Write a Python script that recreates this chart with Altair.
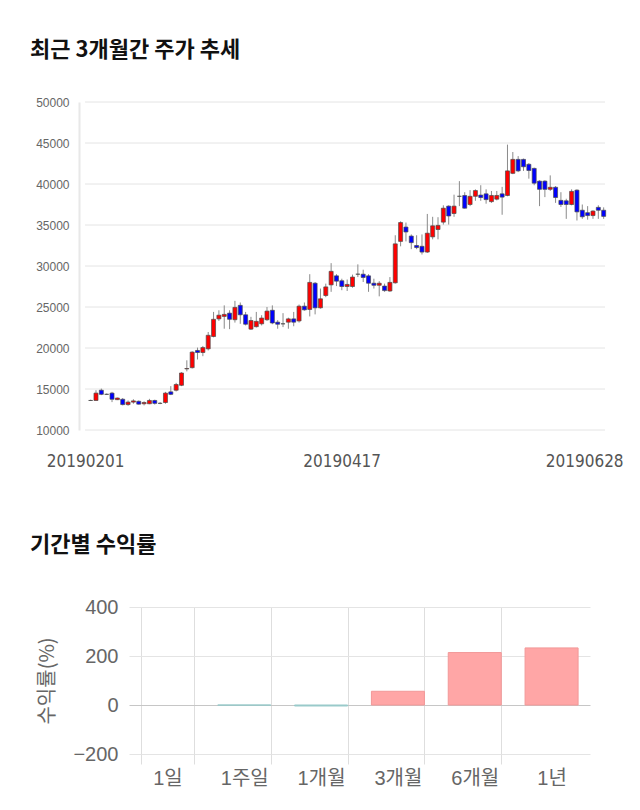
import altair as alt
import pandas as pd

# ---- daily candles (2019-02-01 .. 2019-06-28) ----
opens = [13600, 13600, 14850, 14350, 14500, 13700, 13750, 13100, 13400, 13500,
         13200, 13200, 13600, 13250, 13350, 14650, 14850, 15450, 17450, 17600,
         19700, 19450, 19900, 21400, 23550, 23850, 24250, 23450, 25200, 24050,
         22300, 22600, 22950, 23450, 24600, 23150, 22950, 23150, 23550, 23300,
         25100, 24700, 27900, 24900, 26400, 27700, 28800, 28200, 27500, 27500,
         29000, 29000, 28800, 27900, 27650, 27550, 26950, 27950, 33000, 34750,
         33650, 32500, 32400, 31700, 33550, 34450, 35350, 37300, 36400, 38500,
         38600, 37500, 38500, 38650, 38800, 37850, 38150, 38800, 38600, 41300,
         43000, 43000, 42400, 41900, 40350, 40350, 39350, 39600, 38000, 37950,
         37500, 39250, 36800, 36500, 36150, 37150, 36800]
highs = [13700, 14850, 15050, 14450, 14650, 13950, 13900, 13600, 13750, 13600,
         13500, 13800, 13700, 13400, 14650, 15350, 15750, 17050, 18500, 19600,
         20050, 20250, 21950, 24400, 24600, 25200, 24600, 25750, 25550, 24400,
         23800, 24400, 24000, 25000, 25200, 23400, 24250, 23700, 24400, 25300,
         25550, 29000, 28050, 27250, 27850, 30350, 29000, 28450, 28350, 28950,
         30200, 29550, 29000, 28450, 28150, 27850, 28650, 33750, 35450, 35300,
         33850, 33750, 33850, 36350, 36000, 35950, 37400, 37400, 38700, 40350,
         39000, 39250, 39350, 39850, 39350, 39150, 39150, 39650, 44800, 43900,
         43400, 43100, 42550, 42000, 40450, 40450, 41050, 39750, 39000, 38200,
         39350, 39350, 37500, 37300, 36800, 37400, 37150]
lows = [13550, 13550, 14250, 14300, 13400, 13650, 13000, 12950, 13200, 13100,
        13000, 13150, 13100, 13150, 13200, 14250, 14700, 15350, 17150, 17500,
        18600, 19000, 19700, 21300, 23300, 22350, 22300, 23100, 22950, 22750,
        22200, 22500, 22750, 23300, 22900, 22350, 22550, 22350, 22650, 23100,
        24550, 23850, 24100, 24800, 26200, 26850, 27550, 27050, 26950, 27350,
        28650, 28050, 26850, 27250, 26300, 26850, 26850, 27850, 32400, 33000,
        32050, 32050, 31400, 31600, 33250, 33250, 35050, 35050, 36000, 37300,
        37000, 37300, 37950, 37950, 37600, 37700, 38000, 36250, 38500, 41200,
        41450, 41600, 40650, 39850, 37300, 38400, 39150, 37700, 37200, 35750,
        37400, 35550, 35750, 35650, 35750, 35750, 35750]
closes = [13600, 14500, 14350, 14350, 13750, 13900, 13100, 13400, 13550, 13150,
          13350, 13600, 13250, 13250, 14500, 14350, 15550, 16950, 17500, 19500,
          19450, 20050, 21550, 23500, 24000, 24100, 23500, 24950, 24050, 22900,
          23350, 23250, 23650, 24500, 23050, 22900, 22950, 23550, 23150, 25100,
          24650, 28000, 24900, 26000, 27450, 29350, 28150, 27500, 27750, 28650,
          29000, 28600, 27900, 27650, 27900, 27000, 28000, 32700, 35300, 34150,
          32850, 32250, 31700, 34000, 34900, 34950, 37050, 36100, 37300, 38500,
          37050, 38500, 39200, 38350, 38100, 38600, 38600, 38400, 41600, 43000,
          41600, 42100, 41650, 40100, 39350, 39350, 39600, 38350, 37500, 37500,
          39100, 36600, 36000, 36150, 36700, 36800, 36050]
date_ticks = [0, 48, 96]
date_labels = ["20190201", "20190417", "20190628"]
price_ticks = [10000, 15000, 20000, 25000, 30000, 35000, 40000, 45000, 50000]

# ---- period returns ----
periods = ["1일", "1주일", "1개월", "3개월", "6개월", "1년"]
returns = [0, -0.5, -4, 56, 214, 233]

n = len(opens)
candles = pd.DataFrame({"i": list(range(n)), "open": opens, "high": highs,
                        "low": lows, "close": closes})
candles["dir"] = ["up" if c > o else ("down" if c < o else "flat")
                  for o, c in zip(opens, closes)]
date_df = pd.DataFrame({"i": date_ticks, "label": date_labels,
                        "last": [False] * (len(date_ticks) - 1) + [True]})

# Both panels share the plot origin of the return chart; the price panel's
# visible area reaches SHIFT px further left of that origin.
SHIFT = 50
TOP_W = 481
TOP_H = 328
X_LO, X_HI = -1.05, 96.25                      # visible index range
px_per_unit = (TOP_W + SHIFT) / (X_HI - X_LO)
x_dom_lo = X_LO + SHIFT / px_per_unit           # index at the group origin

x_scale = alt.Scale(domain=[x_dom_lo, X_HI], nice=False, zero=False)
y_scale = alt.Scale(domain=[price_ticks[0], price_ticks[-1]], nice=False, zero=False)

grid_df = pd.DataFrame({"v": price_ticks})
grid = alt.Chart(grid_df).mark_rule(color="#e4e4e4", strokeWidth=1).encode(
    x=alt.X(datum=X_LO, type="quantitative", scale=x_scale, axis=None),
    x2=alt.X2(datum=X_HI),
    y=alt.Y("v:Q", scale=y_scale, title=None,
            axis=alt.Axis(values=price_ticks, format="d", title=None, grid=False,
                          labelFontSize=12, labelFont="Liberation Sans",
                          labelColor="#666666", ticks=False, labelPadding=10,
                          domain=True, domainColor="#e8e8e8", domainWidth=2,
                          offset=SHIFT)),
)

base = alt.Chart(candles)
wicks = base.mark_rule(color="#8a8a8a", strokeWidth=1).encode(
    x=alt.X("i:Q", title=None), y=alt.Y("low:Q", title=None), y2="high:Q")
bodies = base.mark_bar(size=4, stroke="#4a4a4a", strokeWidth=0.7).encode(
    x=alt.X("i:Q", title=None), y=alt.Y("open:Q", title=None), y2="close:Q",
    color=alt.Color("dir:N", legend=None,
                    scale=alt.Scale(domain=["up", "down", "flat"],
                                    range=["#ff0000", "#0000ff", "#000000"])))

date_style = dict(baseline="middle", align="center", dy=32, fontSize=17,
                  font="DejaVu Sans Condensed, Liberation Sans", color="#555555")
date_text = alt.Chart(date_df).transform_filter("!datum.last").mark_text(
    dx=-5, **date_style).encode(
    x=alt.X("i:Q", title=None), y=alt.Y(datum=price_ticks[0]), text="label:N")
date_text_last = alt.Chart(date_df).transform_filter("datum.last").mark_text(
    dx=-19, **date_style).encode(
    x=alt.X("i:Q", title=None), y=alt.Y(datum=price_ticks[0]), text="label:N")

top = alt.layer(grid, wicks, bodies, date_text, date_text_last).properties(
    width=TOP_W, height=TOP_H,
    title=alt.TitleParams("최근 3개월간 주가 추세", anchor="start", frame="group",
                          dx=-99, offset=34, fontSize=22, font="Noto Sans CJK KR",
                          fontWeight="bold", color="#111111"),
)

# ---- bottom bar chart ----
rets = pd.DataFrame({"period": periods, "ret": returns})
grid_x = {"condition": {"test": f"datum.value === '{periods[-1]}'",
                        "value": "rgba(0,0,0,0)"}, "value": "#dedede"}
grid_y = {"condition": {"test": "datum.value === 0", "value": "#c6c6c6"},
          "value": "#e4e4e4"}

bars = alt.Chart(rets).mark_bar().encode(
    x=alt.X("period:N", sort=periods,
            scale=alt.Scale(paddingInner=0.31, paddingOuter=0.155),
            axis=alt.Axis(title=None, labelAngle=0, labelFontSize=20,
                          labelFont="Liberation Sans, Noto Sans CJK KR",
                          labelColor="#666666", tickBand="extent", grid=True,
                          gridColor=grid_x, tickColor=grid_x, tickSize=10,
                          labelPadding=4, domain=False)),
    y=alt.Y("ret:Q", scale=alt.Scale(domain=[-200, 400], nice=False),
            axis=alt.Axis(values=[-200, 0, 200, 400], title="수익률(%)",
                          titleFontSize=20, titleFont="Noto Sans CJK KR",
                          titleFontWeight="normal", titleColor="#666666",
                          titlePadding=15, labelFontSize=20,
                          labelFont="Liberation Sans", labelColor="#666666",
                          ticks=False, domain=False, labelPadding=11,
                          gridColor=grid_y)),
    color=alt.condition("datum.ret >= 0", alt.value("#ffa6a6"), alt.value("#a6d3d3")),
    stroke=alt.condition("datum.ret >= 0", alt.value("#f29898"), alt.value("#96c8c8")),
    strokeWidth=alt.condition("datum.ret == 0", alt.value(0), alt.value(1)),
).properties(
    width=461, height=147,
    title=alt.TitleParams("기간별 수익률", anchor="start", frame="group",
                          dx=-99, offset=40, fontSize=22, font="Noto Sans CJK KR",
                          fontWeight="bold", color="#111111"),
)

chart = alt.vconcat(top, bars, spacing=64).resolve_scale(
    color="independent", stroke="independent", strokeWidth="independent"
).properties(
    padding={"left": 30, "top": 39, "right": 10, "bottom": 4},
    background="white",
).configure_view(stroke=None)

chart.save("out.html", embed_options={"renderer": "svg", "actions": False})
